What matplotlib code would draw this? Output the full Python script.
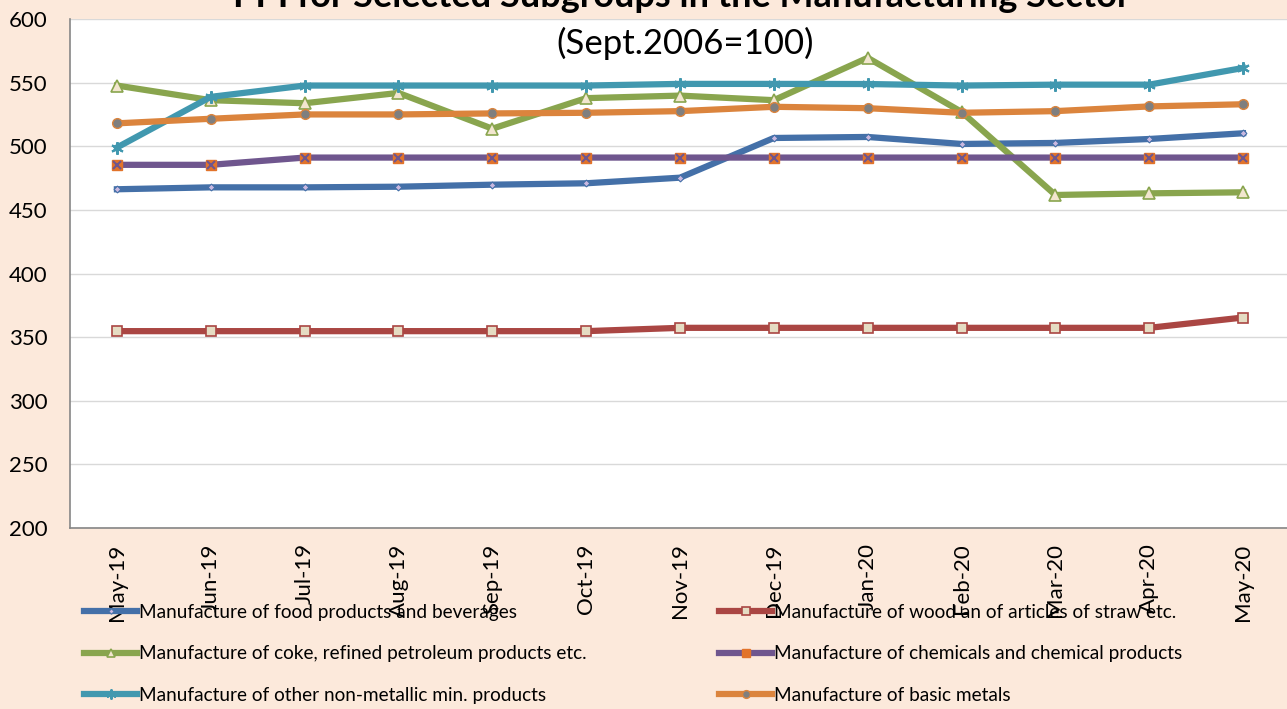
import matplotlib
matplotlib.use("Agg")
import matplotlib.pyplot as plt

plt.rcParams['font.family'] = ['Lato', 'DejaVu Sans']

months = ["May-19", "Jun-19", "Jul-19", "Aug-19", "Sep-19", "Oct-19", "Nov-19",
          "Dec-19", "Jan-20", "Feb-20", "Mar-20", "Apr-20", "May-20"]

food = [466.2, 467.7, 467.7, 468.2, 469.8, 470.9, 475.3, 506.5, 507.3, 501.8, 502.6, 505.7, 510.2]
wood = [354.7, 354.7, 354.7, 354.7, 354.7, 354.7, 357.3, 357.3, 357.3, 357.3, 357.3, 357.3, 365.4]
coke = [547.7, 536.2, 533.8, 541.9, 513.8, 537.8, 539.8, 536.2, 569.5, 527.0, 461.7, 463.0, 463.8]
chem = [485.4, 485.4, 491.1, 491.1, 491.1, 491.1, 491.1, 491.1, 491.1, 491.1, 491.1, 491.1, 491.1]
nonmet = [499.0, 538.8, 547.7, 547.7, 547.7, 547.7, 549.0, 549.0, 548.9, 547.7, 548.4, 548.4, 561.5]
metals = [518.0, 521.6, 525.0, 525.0, 525.8, 526.3, 527.6, 531.0, 529.9, 526.3, 527.6, 531.3, 533.0]

labels = ["Manufacture of food products and beverages",
          "Manufacture of wood an of articles of straw etc.",
          "Manufacture of coke, refined petroleum products etc.",
          "Manufacture of chemicals and chemical products",
          "Manufacture of other non-metallic min. products",
          "Manufacture of basic metals"]

yticks = [200, 250, 300, 350, 400, 450, 500, 550, 600]

bg = '#FCE9DB'
W, H = 1287, 709
fig = plt.figure(figsize=(W / 100, H / 100), dpi=100, facecolor=bg)
ax = fig.add_axes([70 / W, 1 - 528 / H, (1290 - 70) / W, (528 - 19) / H])
ax.set_facecolor('white')

x = list(range(len(months)))
lw = 4.5
h_food, = ax.plot(x, food, color='#4470A8', lw=lw, marker='D', ms=3.5,
                  mfc='#C9B8E0', mec='#4470A8', mew=0.8, label=labels[0], zorder=3)
h_wood, = ax.plot(x, wood, color='#AA4643', lw=lw, marker='s', ms=7,
                  mfc='#E5DCC3', mec='#AA4643', mew=1.2, label=labels[1], zorder=3)
h_coke, = ax.plot(x, coke, color='#89A54E', lw=lw, marker='^', ms=8,
                  mfc='#F2E6CF', mec='#89A54E', mew=1.2, label=labels[2], zorder=3)
h_chem, = ax.plot(x, chem, color='#6F568E', lw=lw, marker='s', ms=7,
                  mfc='#E2732A', mec='#E2732A', mew=1, label=labels[3], zorder=3)
ax.plot(x, chem, ls='none', marker='x', ms=6, mec='#6F568E', mew=1.5, zorder=4)
h_non, = ax.plot(x, nonmet, color='#4198AF', lw=lw, marker=(6, 2, 0), ms=9,
                 mec='#4198AF', mew=1.5, label=labels[4], zorder=3)
h_met, = ax.plot(x, metals, color='#DB843D', lw=lw, marker='o', ms=7,
                 mfc='#7F7F7F', mec='#DB843D', mew=1, label=labels[5], zorder=3)

ax.set_xlim(-0.5, len(months) - 0.5)
ax.set_ylim(200, 600)
ax.set_yticks(yticks)
ax.set_yticklabels([str(v) for v in yticks], fontsize=16)
ax.set_xticks(x)
ax.set_xticklabels(months, rotation=90, fontsize=16)
ax.tick_params(axis='x', length=0, pad=11)
ax.tick_params(axis='y', length=0, pad=16)
ax.grid(axis='y', color='#D9D9D9', lw=1)
ax.set_axisbelow(True)
for s in ['top', 'right']:
    ax.spines[s].set_visible(False)
for s in ['left', 'bottom']:
    ax.spines[s].set_color('#868686')
    ax.spines[s].set_linewidth(1.2)

fig.text(682 / W, 1 - 7 / H, "PPI for Selected Subgroups in the Manufacturing Sector",
         ha='center', va='baseline', fontsize=26, fontweight='bold')
fig.text(685 / W, 1 - 43 / H, "(Sept.2006=100)", ha='center', va='center', fontsize=25)

handles = [h_food, h_coke, h_non, h_wood, h_chem, h_met]
fig.legend(handles, [h.get_label() for h in handles], ncol=2, loc='upper left',
           bbox_to_anchor=(84 / W, 1 - 604 / H), frameon=False, fontsize=13.7,
           handlelength=2.8, handletextpad=0.1, columnspacing=6.95,
           labelspacing=1.28, borderpad=0, borderaxespad=0, markerscale=0.8)

fig.savefig("out.png", dpi=100, facecolor=bg)
